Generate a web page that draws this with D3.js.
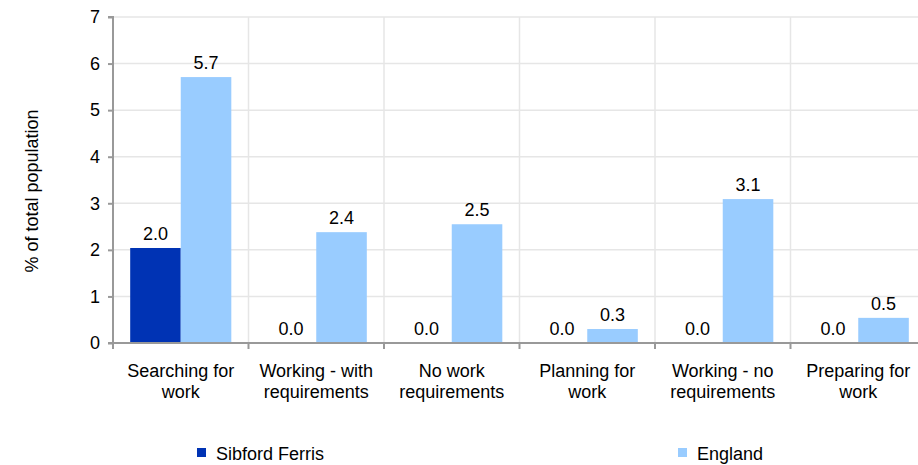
<!DOCTYPE html>
<html><head><meta charset="utf-8">
<script src="https://cdn.jsdelivr.net/npm/d3@7"></script>
<style>body{margin:0;background:#fff}svg{display:block}text{font-family:"Liberation Sans",Arial,sans-serif;fill:#000}</style>
</head><body><svg id="c" width="918" height="465"></svg>
<script>
const categories = [["Searching for","work"],["Working - with","requirements"],["No work","requirements"],["Planning for","work"],["Working - no","requirements"],["Preparing for","work"]];
const seriesNames = ["Sibford Ferris","England"];
const sibford = [2.04,0,0,0,0,0];
const england = [5.71,2.38,2.55,0.30,3.09,0.54];
const yTicks = [0,1,2,3,4,5,6,7];
const colors = ["#0033B4","#99CCFF"];

(function(){
const svg = d3.select("#c");
const FS = 18;
const pL=113, pR=926, pT=17, pB=343;
const x = d3.scaleBand().domain(d3.range(categories.length)).range([pL,pR]);
const x1 = d3.scaleBand().domain([0,1]).range([0,x.bandwidth()]).paddingInner(0).paddingOuter(0.34);
const y = d3.scaleLinear().domain([0,7]).range([pB,pT]);

// grid
svg.append("g").selectAll("line").data(yTicks.slice(1)).join("line")
 .attr("x1",pL).attr("x2",pR).attr("y1",d=>y(d)).attr("y2",d=>y(d))
 .attr("stroke","#e6e6e6").attr("stroke-width",1.5);
svg.append("g").selectAll("line").data(d3.range(1,categories.length+1)).join("line")
 .attr("x1",d=>pL+d*x.step()).attr("x2",d=>pL+d*x.step()).attr("y1",pT).attr("y2",pB)
 .attr("stroke","#e6e6e6").attr("stroke-width",1.5);

const data = [sibford, england];
data.forEach((vals,s)=>{
  const g = svg.append("g");
  g.selectAll("rect").data(vals).join("rect")
   .attr("x",(d,i)=>x(i)+x1(s)).attr("width",x1.bandwidth())
   .attr("y",d=>y(d)).attr("height",d=>pB-y(d)).attr("fill",colors[s]);
  g.selectAll("text").data(vals).join("text")
   .attr("x",(d,i)=>x(i)+x1(s)+x1.bandwidth()/2).attr("y",d=>y(d)-8)
   .attr("text-anchor","middle").attr("font-size",FS).text(d=>d.toFixed(1));
});

// y axis
const ya = svg.append("g").attr("transform",`translate(${pL},0)`)
 .call(d3.axisLeft(y).tickValues(yTicks).tickSize(5).tickPadding(8).tickFormat(d3.format("d")));
ya.selectAll("text").attr("font-size",FS).style("font-family","Liberation Sans, Arial, sans-serif").attr("fill","#000");
ya.selectAll("line,path").attr("stroke","#999").attr("stroke-width",2);
ya.select(".domain").attr("d",`M-5,${pT}H0V${pB}`);

// x axis
const xa = svg.append("g").attr("transform",`translate(0,${pB})`);
xa.append("line").attr("x1",pL-5).attr("x2",pR).attr("y1",0).attr("y2",0).attr("stroke","#999").attr("stroke-width",2);
xa.selectAll("line.t").data(d3.range(0,categories.length+1)).join("line").attr("class","t")
 .attr("x1",d=>pL+d*x.step()).attr("x2",d=>pL+d*x.step()).attr("y1",0).attr("y2",6)
 .attr("stroke","#999").attr("stroke-width",2);
categories.forEach((c,i)=>{
  const t = xa.append("text").attr("text-anchor","middle").attr("font-size",FS)
   .attr("x",x(i)+x.bandwidth()/2).attr("y",34);
  c.forEach((l,j)=>t.append("tspan").attr("x",x(i)+x.bandwidth()/2).attr("dy",j?21:0).text(l));
});

// y label
svg.append("text").attr("transform","translate(38,191) rotate(-90)").attr("text-anchor","middle")
 .attr("font-size",FS).text("% of total population");

// legend
const legX=[197,678];
seriesNames.forEach((n,s)=>{
  svg.append("rect").attr("x",legX[s]).attr("y",448).attr("width",9).attr("height",9).attr("fill",colors[s]);
  svg.append("text").attr("x",legX[s]+19).attr("y",460).attr("font-size",FS).text(n);
});
})();
</script></body></html>
